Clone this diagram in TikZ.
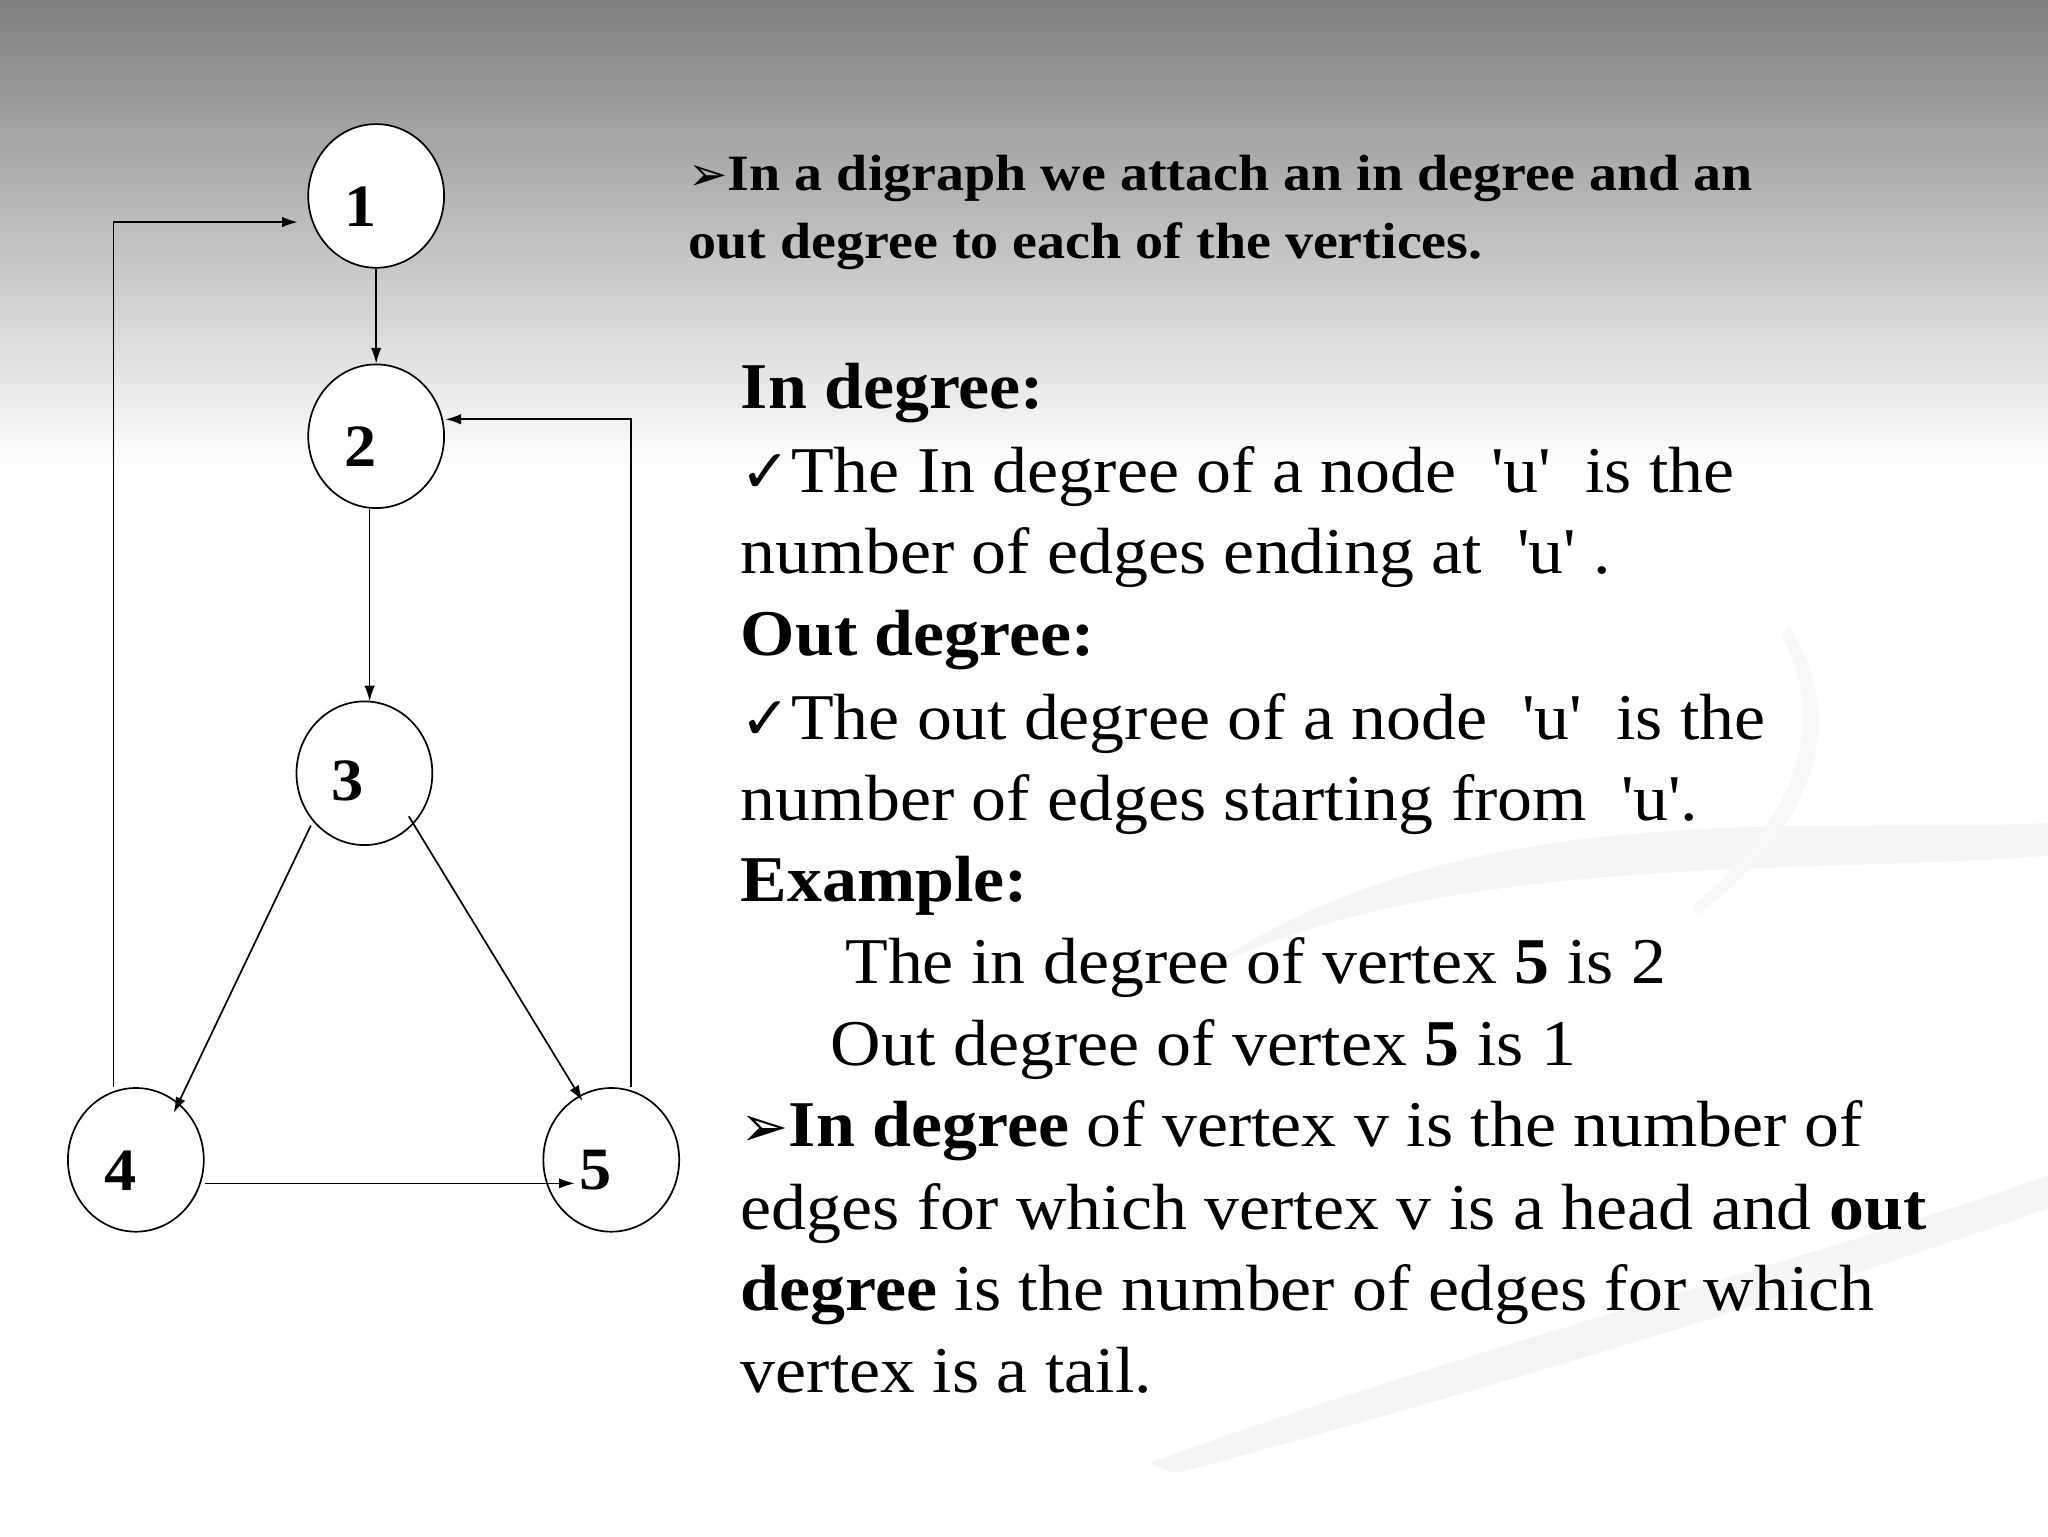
\documentclass[tikz,border=0pt]{standalone}
\usepackage{fontspec}
\setmainfont[FakeStretch=1.07]{Liberation Serif}
\newfontfamily\topf[FakeStretch=1.1]{Liberation Serif}
\newfontfamily\symf{DejaVu Sans}
\usetikzlibrary{shapes.geometric,arrows.meta}
\begin{document}
\begin{tikzpicture}[x=1pt,y=-1pt,
 vtx/.style={draw,ellipse,minimum width=104pt,minimum height=110pt,line width=1.3pt,fill=white},
 vl/.style={font=\fontsize{46}{50}\selectfont\bfseries},
 ed/.style={line width=1.3pt,-{Latex[length=12pt,width=8pt]}},
 body/.style={anchor=base west,inner sep=0,font=\fontsize{50}{60}\selectfont},
 top/.style={anchor=base west,inner sep=0,font=\topf\fontsize{39}{44}\selectfont\bfseries}]
\useasboundingbox (0,0) rectangle (1568,1176);
\shade[top color=black!50,bottom color=white] (0,0) rectangle (1568,360);
\fill[white] (0,360) rectangle (1568,1176);
\fill[black!4] (900,760) .. controls (1100,600) and (1400,640) .. (1568,630) -- (1568,655) .. controls (1400,670) and (1100,650) .. (920,745) -- cycle;
\fill[black!4] (880,1120) .. controls (1100,1040) and (1400,960) .. (1568,900) -- (1568,925) .. controls (1400,985) and (1100,1075) .. (900,1128) -- cycle;
\fill[black!3] (1370,480) .. controls (1420,560) and (1380,640) .. (1300,700) -- (1296,694) .. controls (1368,632) and (1404,560) .. (1364,486) -- cycle;
\node[vtx] (n1) at (288,150) {}; \node[vl] at (276,158) {1};
\node[vtx] (n2) at (288,334) {}; \node[vl] at (276,342) {2};
\node[vtx] (n3) at (279,592) {}; \node[vl] at (266,598) {3};
\node[vtx] (n4) at (104,888) {}; \node[vl] at (92,896) {4};
\node[vtx] (n5) at (468,888) {}; \node[vl] at (456,896) {5};
\coordinate (a1) at (87,832); \coordinate (a2) at (87,170); \coordinate (a3) at (228,170);
\coordinate (b1) at (483,832); \coordinate (b2) at (483,321); \coordinate (b3) at (341,321);
\coordinate (c1) at (283,390); \coordinate (c2) at (283,537);
\coordinate (d1) at (238,632); \coordinate (d2) at (133,852);
\coordinate (e1) at (313,625); \coordinate (e2) at (446,843);
\coordinate (f1) at (157,906); \coordinate (f2) at (440,906);
\draw[ed] (n1.south) -- (n2.north);
\draw[ed] (c1) -- (c2);
\draw[ed] (d1) -- (d2);
\draw[ed] (e1) -- (e2);
\draw[ed] (f1) -- (f2);
\draw[ed] (a1) -- (a2) -- (a3);
\draw[ed] (b1) -- (b2) -- (b3);
\node[top] at (527,146) {{\symf\fontsize{36}{36}\selectfont ➢}In a digraph we attach an in degree and an};
\node[top] at (527,198) {out degree to each of the vertices.};
\node[body,font=\fontsize{50}{60}\selectfont\bfseries] at (567,313) {In degree:};
\node[body] at (567,377) {{\symf\fontsize{46}{46}\selectfont ✓}The In degree of a node\ \ \textquotesingle u\textquotesingle\ \ is the};
\node[body] at (567,439) {number of edges ending at\ \ \textquotesingle u\textquotesingle\ .};
\node[body,font=\fontsize{50}{60}\selectfont\bfseries] at (567,502) {Out degree:};
\node[body] at (567,566) {{\symf\fontsize{46}{46}\selectfont ✓}The out degree of a node\ \ \textquotesingle u\textquotesingle\ \ is the};
\node[body] at (567,628) {number of edges starting from\ \ \textquotesingle u\textquotesingle.};
\node[body,font=\fontsize{50}{60}\selectfont\bfseries] at (567,690) {Example:};
\node[body] at (647,753) {The in degree of vertex \textbf{5} is 2};
\node[body] at (636,816) {Out degree of vertex \textbf{5} is 1};
\node[body] at (567,878) {{\symf\fontsize{44}{44}\selectfont ➢}\textbf{In degree} of vertex v is the number of};
\node[body] at (567,941) {edges for which vertex v is a head and \textbf{out}};
\node[body] at (567,1003) {\textbf{degree} is the number of edges for which};
\node[body] at (567,1066) {vertex is a tail.};
\end{tikzpicture}
\end{document}
